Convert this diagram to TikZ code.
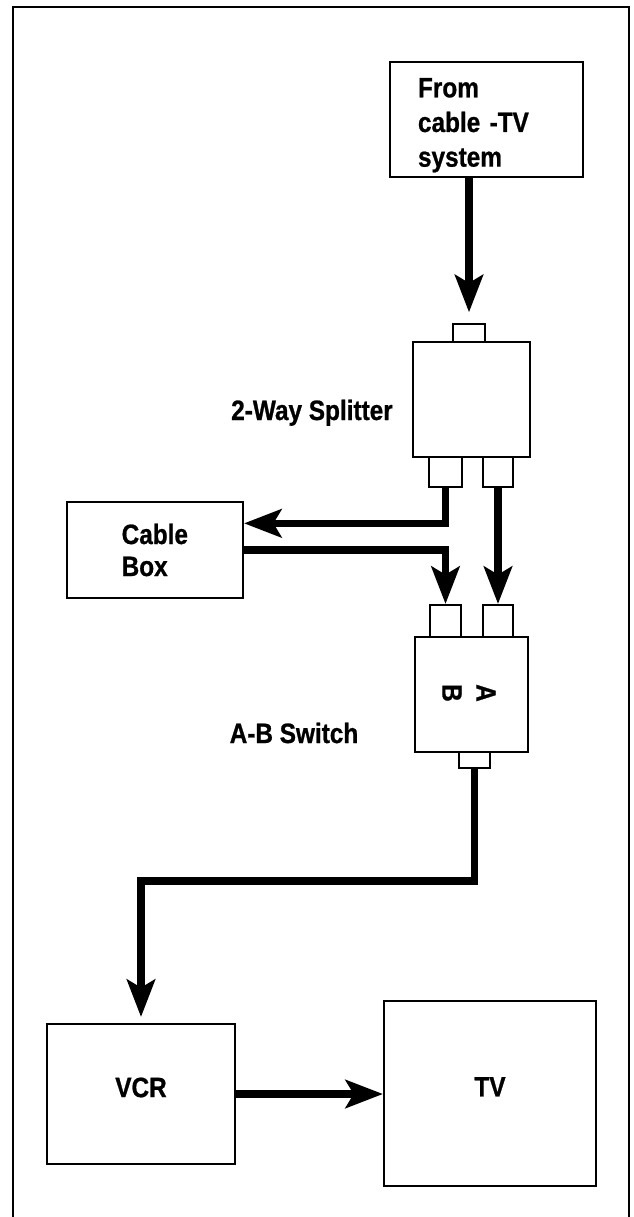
\documentclass[tikz,border=0pt]{standalone}
\usepackage{fontspec}
\newfontfamily\lblfont[FakeStretch=0.87,FakeBold=0.8]{Liberation Sans Bold}
\usetikzlibrary{arrows.meta,positioning}

\begin{document}
\begin{tikzpicture}[x=0.75pt,y=-0.75pt,
    box/.style={draw=black, line width=1.5pt, fill=white, inner sep=0pt},
    port/.style={draw=black, line width=1.5pt, fill=white, inner sep=0pt},
    lbl/.style={font=\lblfont\fontsize{21}{26}\selectfont},
    wire/.style={line width=5.5pt, -{Stealth[length=28pt,width=21pt,inset=6pt]}}]
  \useasboundingbox (0,0) rectangle (634,1217);
  % ---------- frame ----------
  \draw[line width=1.5pt] (13,1217) |- (629,7) -- (629,1217);
  % ---------- source ----------
  \node[box, lbl, align=left, text width=102.75pt, inner xsep=21pt, text depth=47pt, minimum width=144.75pt, minimum height=86.25pt] (src) at (486.5,119) {From\\cable -TV\\system};
  % ---------- splitter ----------
  \node[box, minimum width=87.75pt, minimum height=86.25pt] (split) at (471.5,399.5) {};
  \node[port, minimum width=24pt, minimum height=13.5pt]    (splitin) at (469,333) {};
  \node[port, minimum width=24.75pt, minimum height=22.5pt] (splitl)  at (445.5,472) {};
  \node[port, minimum width=22.5pt, minimum height=22.5pt]  (splitr)  at (498,472) {};
  \node[lbl, anchor=base] (splitlbl) at (312,420) {2-Way Splitter};
  % ---------- cable box ----------
  \node[box, lbl, align=left, text width=50pt, inner xsep=41pt, minimum height=72pt] (cbox) at (155,550) {Cable\\[-2pt]Box};
  % ---------- A-B switch ----------
  \node[box, minimum width=84.75pt, minimum height=86.25pt] (sw) at (471.5,694.5) {};
  \node[port, minimum width=23.25pt, minimum height=24pt] (swl)   at (445.5,621) {};
  \node[port, minimum width=22.5pt, minimum height=24pt]  (swr)   at (498,621) {};
  \node[port, minimum width=23.25pt, minimum height=12pt] (swout) at (474.5,760) {};
  \node[lbl, rotate=-90] (swa) at (486,693) {A};
  \node[lbl, rotate=-90] (swb) at (452,693) {B};
  \node[lbl, anchor=base] (swlbl) at (294,743) {A-B Switch};
  % ---------- VCR and TV ----------
  \node[box, lbl, text depth=10pt, minimum width=141pt, minimum height=105pt]   (vcr) at (141,1094) {VCR};
  \node[box, lbl, text depth=10pt, minimum width=159pt, minimum height=138.75pt] (tv) at (490,1093.5) {TV};
  % ---------- signals ----------
  \draw[wire, shorten >=8pt] (src.south -| splitin.north) -- (splitin.north);
  \draw[wire] (splitl.south) |- ([yshift=20pt]cbox.east);
  \draw[wire] (cbox.east) -| (swl.north);
  \draw[wire] (splitr.south) -- (swr.north);
  \draw[wire, shorten >=4.5pt] (swout.south) -- ++(0,112) -| (vcr.north);
  \draw[wire] (vcr.east) -- (vcr.east -| tv.west);
\end{tikzpicture}
\end{document}
